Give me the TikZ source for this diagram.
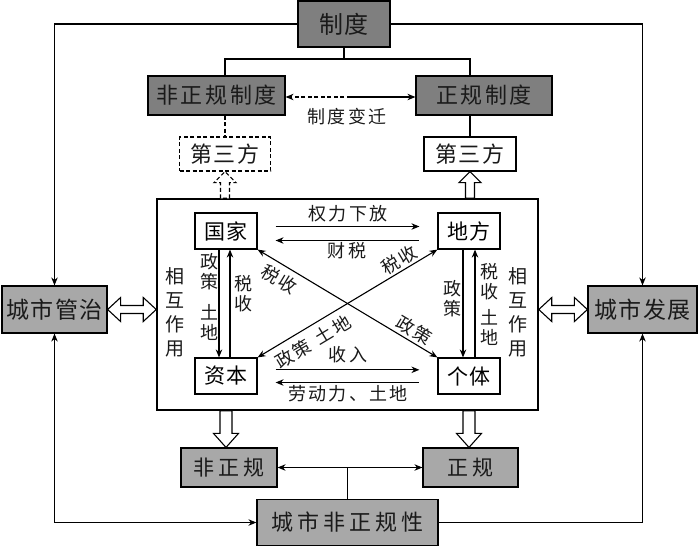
\documentclass[tikz,border=0pt]{standalone}
\usepackage{fontspec}
\setmainfont{Noto Sans CJK SC}
\newfontfamily\cjkS{Noto Sans CJK SC}[LetterSpace=6]
\newfontfamily\cjkM{Noto Sans CJK SC}[LetterSpace=12]
\newfontfamily\cjkW{Noto Sans CJK SC}[LetterSpace=18]
\usetikzlibrary{arrows.meta,calc}
\definecolor{dkgray}{HTML}{7F7F7F}
\definecolor{ltgray}{HTML}{A8A8A8}
\definecolor{txt}{HTML}{1A1A1A}
\newcommand\hollowarrow[6][]{%
  \draw[hollow,#1] ($(#2)!#4!90:(#3)$) -- ($(#3)!#6!(#2)!#4!-90:(#2)$) -- ($(#3)!#6!(#2)!#5!-90:(#2)$) -- (#3) -- ($(#3)!#6!(#2)!#5!90:(#2)$) -- ($(#3)!#6!(#2)!#4!90:(#2)$) -- ($(#2)!#4!-90:(#3)$) -- cycle;}
\newcommand\hollowdouble[5][]{%
  \draw[hollow,#1] (#2) -- ($(#2)!13pt!(#3)!#5!90:(#3)$) -- ($(#2)!13pt!(#3)!#4!90:(#3)$) -- ($(#3)!13pt!(#2)!#4!-90:(#2)$) -- ($(#3)!13pt!(#2)!#5!-90:(#2)$) -- (#3) -- ($(#3)!13pt!(#2)!#5!90:(#2)$) -- ($(#3)!13pt!(#2)!#4!90:(#2)$) -- ($(#2)!13pt!(#3)!#4!-90:(#3)$) -- ($(#2)!13pt!(#3)!#5!-90:(#3)$) -- cycle;}
\begin{document}
\begin{tikzpicture}[x=1pt,y=-1pt,
  darkbox/.style={draw=black, line width=1.2pt, fill=dkgray, text=txt, inner sep=0pt},
  lightbox/.style={draw=black, line width=1.2pt, fill=ltgray, text=txt, inner sep=0pt},
  plainbox/.style={draw=black, line width=1.2pt, fill=white, text=txt, inner sep=0pt},
  inbox/.style={draw=black, line width=1.2pt, fill=white, text=black, inner sep=0pt,
    minimum width=62pt, minimum height=36pt, font=\cjkS\fontsize{21}{25}\selectfont},
  mainbox/.style={draw=black, line width=1.5pt, fill=white, inner sep=0pt},
  lbl/.style={inner sep=0pt, text=txt, font=\cjkM\fontsize{18}{22}\selectfont},
  vlbl/.style={inner sep=0pt, text=txt, align=center, font=\cjkS\fontsize{18}{20}\selectfont},
  conn/.style={draw=black, line width=1.1pt, >={Stealth[length=8pt,width=6.5pt]}},
  hollow/.style={draw=black, line width=1.1pt, fill=white, line join=miter},
  dsh/.style={dash pattern=on 4pt off 2.5pt}
]
\useasboundingbox (0,0) rectangle (700,547);

% boxes
\node[darkbox, minimum width=92pt, minimum height=46pt, font=\cjkS\fontsize{24}{28}\selectfont] (zhidu) at (344,24) {制度};
\node[darkbox, minimum width=137pt, minimum height=39pt, font=\cjkM\fontsize{22}{26}\selectfont] (fzgzd) at (216.5,95.5) {非正规制度};
\node[darkbox, minimum width=136pt, minimum height=39pt, font=\cjkM\fontsize{22}{26}\selectfont] (zgzd) at (484,95.5) {正规制度};
\node[plainbox, dsh, minimum width=91pt, minimum height=34pt, font=\cjkS\fontsize{22}{26}\selectfont] (dsf1) at (225,154) {第三方};
\node[plainbox, minimum width=92pt, minimum height=34pt, font=\cjkS\fontsize{22}{26}\selectfont] (dsf2) at (470,154) {第三方};
\node[mainbox, minimum width=381pt, minimum height=211pt] (main) at (347.5,304.5) {};
\node[inbox] (guojia) at (226,231) {国家};
\node[inbox] (difang) at (469,231) {地方};
\node[inbox] (ziben) at (226,376) {资本};
\node[inbox] (geti) at (469,376) {个体};
\node[lightbox, minimum width=105pt, minimum height=47pt, font=\cjkS\fontsize{23}{27}\selectfont] (csgz) at (54.5,309.5) {城市管治};
\node[lightbox, minimum width=109pt, minimum height=47pt, font=\cjkS\fontsize{23}{27}\selectfont] (csfz) at (642.5,309.5) {城市发展};
\node[lightbox, minimum width=96pt, minimum height=39pt, font=\cjkW\fontsize{21}{25}\selectfont] (fzg) at (229,467.5) {非正规};
\node[lightbox, minimum width=95pt, minimum height=39pt, font=\cjkW\fontsize{21}{25}\selectfont] (zg) at (470.5,467.5) {正规};
\node[lightbox, minimum width=181pt, minimum height=46pt, font=\cjkW\fontsize{22}{26}\selectfont] (csfzgx) at (347.5,522.5) {城市非正规性};

% outer connectors
\draw[conn,->] (zhidu.west) -| (csgz.north);
\draw[conn,->] (zhidu.east) -| (csfz.north);
\draw[conn,<->] (csgz.south) |- (csfzgx.west);
\draw[conn,->] (csfzgx.east) -| (csfz.south);

% institution tree
\coordinate (zj) at (344,59);
\draw[conn] (zhidu.south) -- (zj);
\draw[conn] (fzgzd.north -| dsf1.north) |- (zj) -| (zgzd.north -| dsf2.north);
\draw[conn,dsh] (fzgzd.south -| dsf1.north) -- (dsf1.north);
\draw[conn] (zgzd.south -| dsf2.north) -- (dsf2.north);
\coordinate (bq) at ($(fzgzd.east)!0.5!(zgzd.west)+(0,1.5)$);
\draw[conn,dsh,->] (bq) -- (fzgzd.east |- bq);
\draw[conn,->] (bq) -- (zgzd.west |- bq);
\node[lbl] (bqlbl) at (347,117) {制度变迁};

% informality link
\draw[conn,<->] (fzg.east) -- (zg.west);
\draw[conn] (csfzgx.north) -- (csfzgx.north |- fzg.east);

% hollow arrows
\coordinate (h1t) at (main.north -| dsf1.south);
\coordinate (h2t) at (main.north -| dsf2.south);
\hollowarrow[dsh]{h1t}{dsf1.south}{4.5pt}{11pt}{11pt}
\hollowarrow{h2t}{dsf2.south}{4.5pt}{11pt}{11pt}
\coordinate (h3t) at (main.south -| guojia.south);
\coordinate (h3p) at (fzg.north -| guojia.south);
\coordinate (h4t) at (main.south -| difang.south);
\coordinate (h4p) at (zg.north -| difang.south);
\hollowarrow{h3t}{h3p}{6pt}{12.5pt}{14pt}
\hollowarrow{h4t}{h4p}{6pt}{12.5pt}{14pt}
\coordinate (d1b) at (main.west |- csgz.east);
\coordinate (d2a) at (main.east |- csfz.west);
\hollowdouble{csgz.east}{d1b}{4pt}{12pt}
\hollowdouble{d2a}{csfz.west}{4pt}{12pt}

% inner arrows
\draw[conn,->] ($(guojia.east)+(18,-4.5)$) -- ($(difang.west)+(-18,-4.5)$);
\draw[conn,<-] ($(guojia.east)+(18,9.5)$) -- ($(difang.west)+(-18,9.5)$);
\draw[conn,->] ($(ziben.east)+(18,-6.2)$) -- ($(geti.west)+(-18,-6.2)$);
\draw[conn,<-] ($(ziben.east)+(18,6.5)$) -- ($(geti.west)+(-18,6.5)$);
\draw[conn,->] ($(guojia.south)+(-7,0)$) -- ($(ziben.north)+(-7,0)$);
\draw[conn,<-] ($(guojia.south)+(4,0)$) -- ($(ziben.north)+(4,0)$);
\draw[conn,->] ($(difang.south)+(-6,0)$) -- ($(geti.north)+(-6,0)$);
\draw[conn,<-] ($(difang.south)+(6,0)$) -- ($(geti.north)+(6,0)$);
\draw[conn,<->] (guojia.south east) -- (geti.north west);
\draw[conn,<->] (ziben.north east) -- (difang.south west);

% labels
\node[lbl] (l1) at (348,213.5) {权力下放};
\node[lbl] (l2) at (347,250.5) {财税};
\node[lbl] (l3) at (348,355) {收入};
\node[lbl] (l4) at (348,394) {劳动力、土地};
\node[vlbl] (l5) at (209,297) {政\\策\\[11pt]土\\地};
\node[vlbl] (l6) at (243.5,294) {税\\收};
\node[vlbl] (l7) at (452,299) {政\\策};
\node[vlbl] (l8) at (489,304) {税\\收\\[6pt]土\\地};
\node[vlbl, font=\cjkS\fontsize{19}{24}\selectfont] (l9) at (175,312) {相\\互\\作\\用};
\node[vlbl, font=\cjkS\fontsize{19}{24}\selectfont] (l10) at (518,312) {相\\互\\作\\用};
\node[lbl, rotate=-31] (l11) at (279,279) {税收};
\node[lbl, rotate=-31] (l12) at (414,330) {政策};
\node[lbl, rotate=31] (l13) at (399,260) {税收};
\node[lbl, rotate=31] (l14) at (313,342) {政策\hspace{8pt}土地};
\end{tikzpicture}
\end{document}
